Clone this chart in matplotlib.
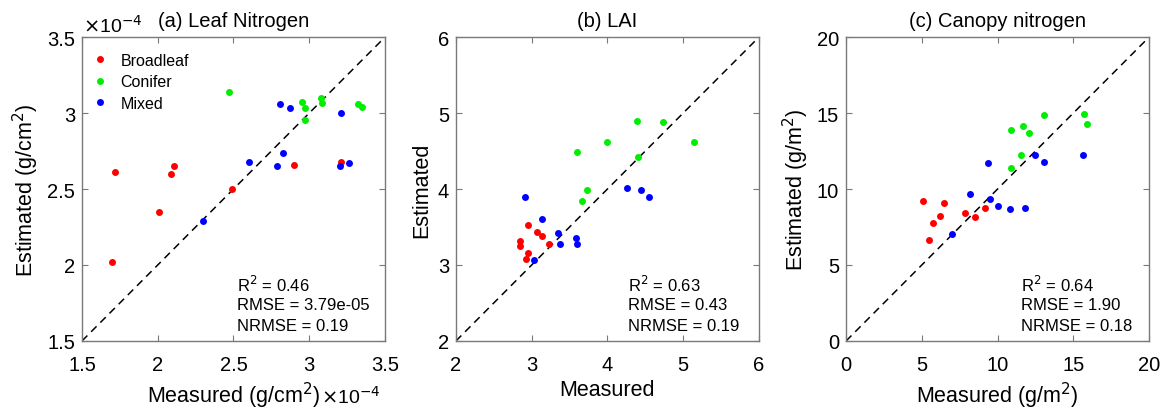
import matplotlib
matplotlib.use("Agg")
import matplotlib.pyplot as plt

plt.rcParams['font.family'] = ['Liberation Sans', 'DejaVu Sans']

# (a) leaf nitrogen, values in units of 1e-4 g/cm2
leaf_broad_x = [1.72, 1.70, 2.01, 2.09, 2.11, 2.49, 2.90, 3.21]
leaf_broad_y = [2.61, 2.02, 2.35, 2.60, 2.65, 2.50, 2.66, 2.68]
leaf_conif_x = [2.47, 2.95, 2.97, 2.97, 3.08, 3.085, 3.32, 3.35]
leaf_conif_y = [3.14, 3.07, 3.03, 2.955, 3.10, 3.065, 3.06, 3.04]
leaf_mixed_x = [2.30, 2.60, 2.81, 2.87, 2.83, 2.79, 3.21, 3.20, 3.26]
leaf_mixed_y = [2.29, 2.68, 3.06, 3.03, 2.735, 2.65, 3.00, 2.65, 2.67]

# (b) LAI
lai_broad_x = [2.84, 2.84, 2.95, 3.07, 3.14, 3.23, 2.95, 2.92]
lai_broad_y = [3.31, 3.25, 3.52, 3.43, 3.38, 3.28, 3.16, 3.08]
lai_conif_x = [3.60, 4.00, 4.39, 4.73, 5.14, 4.41, 3.73, 3.66]
lai_conif_y = [4.49, 4.62, 4.89, 4.88, 4.62, 4.42, 3.99, 3.84]
lai_mixed_x = [2.91, 3.14, 3.35, 3.38, 3.58, 3.60, 3.03, 4.26, 4.44, 4.55]
lai_mixed_y = [3.90, 3.61, 3.42, 3.27, 3.36, 3.28, 3.06, 4.02, 3.99, 3.90]

# (c) canopy nitrogen, g/m2
can_broad_x = [5.11, 6.48, 5.72, 6.18, 5.50, 7.85, 8.49, 9.17]
can_broad_y = [9.21, 9.10, 7.78, 8.20, 6.66, 8.42, 8.18, 8.73]
can_conif_x = [10.9, 11.71, 12.08, 13.05, 11.54, 10.9, 15.70, 15.88]
can_conif_y = [13.87, 14.18, 13.67, 14.84, 12.22, 11.36, 14.92, 14.31]
can_mixed_x = [7.0, 8.2, 9.36, 9.52, 10.02, 10.83, 11.78, 12.5, 13.05, 15.64]
can_mixed_y = [7.01, 9.67, 11.74, 9.34, 8.90, 8.66, 8.77, 12.22, 11.80, 12.22]

groups = ['Broadleaf', 'Conifer', 'Mixed']
colors = ['#ff0000', '#00ee00', '#0000ff']

panels = [
    dict(title='(a) Leaf Nitrogen', lim=(1.5, 3.5), ticks=[1.5, 2, 2.5, 3, 3.5],
         ticklabels=['1.5', '2', '2.5', '3', '3.5'],
         xlabel='Measured (g/cm$^2$)', ylabel='Estimated (g/cm$^2$)',
         data=[(leaf_broad_x, leaf_broad_y), (leaf_conif_x, leaf_conif_y),
               (leaf_mixed_x, leaf_mixed_y)],
         stats=['R$^2$ = 0.46', 'RMSE = 3.79e-05', 'NRMSE = 0.19'], sx=0.51),
    dict(title='(b) LAI', lim=(2, 6), ticks=[2, 3, 4, 5, 6],
         ticklabels=['2', '3', '4', '5', '6'],
         xlabel='Measured', ylabel='Estimated',
         data=[(lai_broad_x, lai_broad_y), (lai_conif_x, lai_conif_y),
               (lai_mixed_x, lai_mixed_y)],
         stats=['R$^2$ = 0.63', 'RMSE = 0.43', 'NRMSE = 0.19'], sx=0.568),
    dict(title='(c) Canopy nitrogen', lim=(0, 20), ticks=[0, 5, 10, 15, 20],
         ticklabels=['0', '5', '10', '15', '20'],
         xlabel='Measured (g/m$^2$)', ylabel='Estimated (g/m$^2$)',
         data=[(can_broad_x, can_broad_y), (can_conif_x, can_conif_y),
               (can_mixed_x, can_mixed_y)],
         stats=['R$^2$ = 0.64', 'RMSE = 1.90', 'NRMSE = 0.18'], sx=0.576),
]

fig = plt.figure(figsize=(11.66, 4.14), dpi=100)
lefts = [0.0703, 0.391, 0.7256]
axes_color = '#7a7a7a'

for i, p in enumerate(panels):
    ax = fig.add_axes([lefts[i], 0.174, 0.2599, 0.734])
    lo, hi = p['lim']
    ax.plot([lo, hi], [lo, hi], '--', color='black', lw=1.1, dashes=(5, 3.5), zorder=1)
    for (xs, ys), g, c in zip(p['data'], groups, colors):
        ax.plot(xs, ys, 'o', color=c, ms=5, mec='none', label=g, zorder=2)
    ax.set_xlim(lo, hi)
    ax.set_ylim(lo, hi)
    ax.set_xticks(p['ticks'])
    ax.set_yticks(p['ticks'])
    ax.set_xticklabels(p['ticklabels'])
    ax.set_yticklabels(p['ticklabels'])
    ax.tick_params(direction='in', length=4, width=0.8, color=axes_color,
                   top=True, right=True, labelsize=14.5, pad=5)
    ax.tick_params(axis='x', pad=10)
    for s in ax.spines.values():
        s.set_color(axes_color)
        s.set_linewidth(1.0)
    ax.set_title(p['title'], fontsize=14.5, pad=8)
    ax.set_xlabel(p['xlabel'], fontsize=15.5, labelpad=4)
    ax.set_ylabel(p['ylabel'], fontsize=15.5, labelpad=4)
    for k, line in enumerate(p['stats']):
        ax.text(p['sx'], 0.188 - 0.068 * k, line, transform=ax.transAxes,
                fontsize=12, va='center', ha='left')
    if i == 0:
        ax.legend(loc='upper left', frameon=False, fontsize=11.5,
                  handlelength=0.8, handletextpad=0.9, labelspacing=0.4,
                  borderaxespad=0.3, bbox_to_anchor=(0.0, 0.985))
        ax.text(0.003, 1.016, r'$\times$10$^{-4}$', transform=ax.transAxes,
                fontsize=14, ha='left', va='baseline')
        ax.text(0.79, -0.203, r'$\times$10$^{-4}$', transform=ax.transAxes,
                fontsize=14, ha='left', va='baseline')

fig.savefig('out.png', dpi=100)
